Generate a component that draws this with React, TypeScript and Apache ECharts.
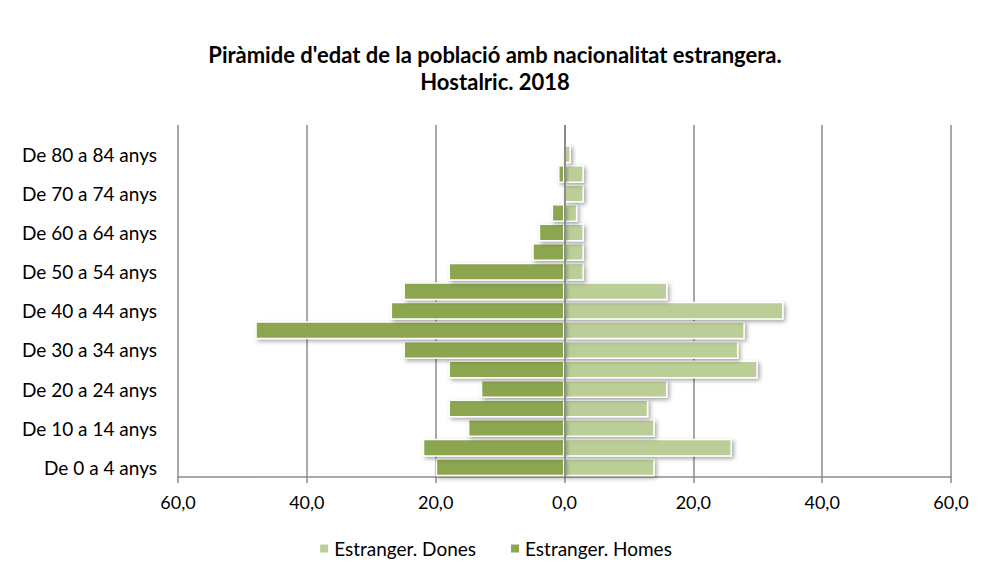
import React, { useEffect, useRef } from "react";
import * as echarts from "echarts";

const categories = [
  "De 0 a 4 anys", "De 5 a 9 anys", "De 10 a 14 anys", "De 15 a 19 anys",
  "De 20 a 24 anys", "De 25 a 29 anys", "De 30 a 34 anys", "De 35 a 39 anys",
  "De 40 a 44 anys", "De 45 a 49 anys", "De 50 a 54 anys", "De 55 a 59 anys",
  "De 60 a 64 anys", "De 65 a 69 anys", "De 70 a 74 anys", "De 75 a 79 anys",
  "De 80 a 84 anys", "De 85 anys i més",
];
const dones = [14, 26, 14, 13, 16, 30, 27, 28, 34, 16, 3, 3, 3, 2, 3, 3, 1, 0];
const homes = [20, 22, 15, 18, 13, 18, 25, 48, 27, 25, 18, 5, 4, 2, 0, 1, 0, 0];
const xTicks = { min: -60, max: 60, interval: 20 };

const FONT = "Lato, 'Liberation Sans', sans-serif";

export default function App() {
  const ref = useRef<HTMLDivElement>(null);
  useEffect(() => {
    if (!ref.current) return;
    const chart = echarts.init(ref.current, undefined, { renderer: "svg" });
    const barStyle = (color: string) => ({
      color,
      borderColor: "#ffffff",
      borderWidth: 1.5,
      shadowBlur: 4,
      shadowColor: "rgba(0,0,0,0.35)",
      shadowOffsetX: 2,
      shadowOffsetY: 2,
    });
    chart.setOption({
      animation: false,
      backgroundColor: "#ffffff",
      textStyle: { fontFamily: FONT },
      title: {
        text: "Piràmide d'edat de la població amb nacionalitat estrangera.\nHostalric. 2018",
        left: "center",
        top: 36,
        textStyle: {
          fontFamily: FONT,
          fontSize: 22,
          fontWeight: "bold",
          color: "#000",
          lineHeight: 27,
        },
      },
      legend: {
        bottom: 24,
        left: "center",
        icon: "rect",
        itemWidth: 10,
        itemHeight: 10,
        itemGap: 33,
        textStyle: { fontFamily: FONT, fontSize: 19, color: "#000" },
        data: ["Estranger. Dones", "Estranger. Homes"],
      },
      grid: { left: 178, right: 39, top: 125, bottom: 110, containLabel: false },
      xAxis: {
        type: "value",
        min: xTicks.min,
        max: xTicks.max,
        interval: xTicks.interval,
        axisLine: { show: true, lineStyle: { color: "#8c8c8c", width: 1.5 } },
        axisTick: { show: true, length: 6, lineStyle: { color: "#8c8c8c", width: 1.5 } },
        splitLine: { show: true, lineStyle: { color: "#8c8c8c", width: 1.5 } },
        axisLabel: {
          color: "#000",
          fontSize: 18,
          fontFamily: FONT,
          margin: 16,
          formatter: (v: number) => Math.abs(v).toFixed(1).replace(".", ","),
        },
      },
      yAxis: {
        type: "category",
        data: categories,
        axisLine: { show: false },
        axisTick: { show: false },
        axisLabel: {
          interval: 1,
          color: "#000",
          fontSize: 19,
          fontFamily: FONT,
          margin: 21,
        },
      },
      series: [
        {
          name: "Estranger. Dones",
          type: "bar",
          stack: "total",
          barCategoryGap: "8%",
          data: dones,
          itemStyle: barStyle("#bbce97"),
          markLine: {
            silent: true,
            symbol: ["none", "none"],
            label: { show: false },
            lineStyle: { color: "#8c8c8c", width: 2, type: "solid" },
            data: [{ xAxis: 0 }],
            z: 10,
          },
        },
        {
          name: "Estranger. Homes",
          type: "bar",
          stack: "total",
          barCategoryGap: "8%",
          data: homes.map((v) => -v),
          itemStyle: barStyle("#8ba64f"),
        },
      ],
    });
    return () => chart.dispose();
  }, []);
  return (
    <div
      ref={ref}
      style={{ position: "fixed", left: 0, top: 0, width: 990, height: 587 }}
    />
  );
}
